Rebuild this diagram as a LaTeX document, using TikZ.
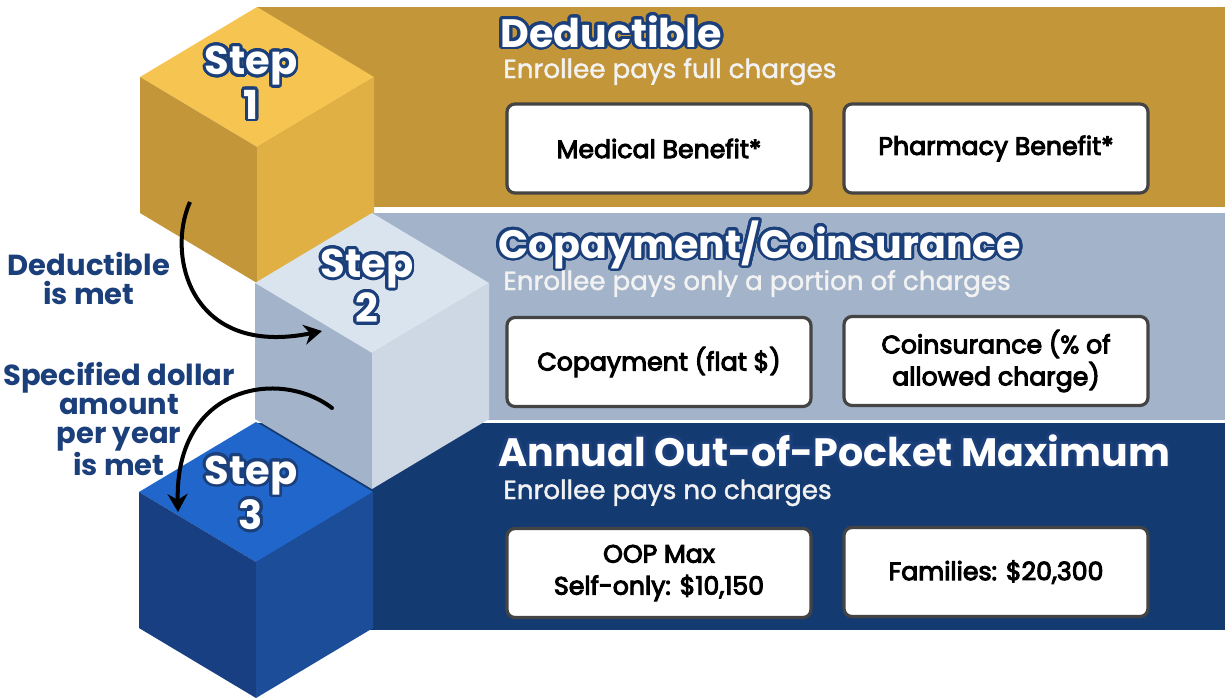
\documentclass[tikz,border=0pt]{standalone}
\usepackage{fontspec}
\setmainfont{Poppins}
\newfontfamily\pmed[FakeBold=4]{Poppins}
\newfontfamily\psub[FakeBold=1.5]{Poppins}
\usepackage[copies]{contour}
\usetikzlibrary{arrows.meta}
\definecolor{goldband}{HTML}{C4963A}
\definecolor{goldtop}{HTML}{F5C451}
\definecolor{goldright}{HTML}{E1B044}
\definecolor{grayband}{HTML}{A3B4CA}
\definecolor{graytop}{HTML}{D9E4EF}
\definecolor{grayright}{HTML}{CED8E4}
\definecolor{blueband}{HTML}{143A72}
\definecolor{bluetop}{HTML}{2167CB}
\definecolor{blueleft}{HTML}{173F82}
\definecolor{blueright}{HTML}{1C4D99}
\definecolor{navy}{HTML}{1B3F7A}
\definecolor{boxborder}{HTML}{444444}
\definecolor{subwhite}{HTML}{F2F2F2}
\contournumber{32}
\newcommand\isocube[4]{%
  \begin{scope}[shift={#1}]
    \fill[#2] (0,0)--(-117,70)--(0,140)--(117,70)--cycle;
    \fill[#3] (-117,70)--(0,140)--(0,276)--(-117,206)--cycle;
    \fill[#4] (0,140)--(117,70)--(117,206)--(0,276)--cycle;
  \end{scope}}
\newcommand\outl[1]{\contourlength{1.4pt}\contour{navy}{\textcolor{white}{#1}}}
\begin{document}
\begin{tikzpicture}[x=0.5pt,y=-0.5pt,
  infobox/.style={draw=boxborder,line width=1.6pt,fill=white,rounded corners=4pt,
    minimum width=152pt,minimum height=44.5pt,align=center,inner sep=2pt,
    font=\pmed\fontsize{12.6}{16}\selectfont},
  title/.style={anchor=base west,inner sep=0pt,font=\bfseries\fontsize{19.8}{22}\selectfont},
  subtitle/.style={anchor=base west,inner sep=0pt,text=subwhite,font=\psub\fontsize{13.1}{14}\selectfont},
  steplabel/.style={align=center,inner sep=0pt,font=\bfseries\fontsize{20}{18.5}\selectfont},
  sidelabel/.style={align=center,inner sep=0pt,text=navy,font=\bfseries\fontsize{14.5}{14.5}\selectfont},
  flow/.style={line width=2pt,-{Stealth[length=9pt,width=10pt]}}]
\useasboundingbox (0,0) rectangle (1225,698);
% bands
\fill[goldband] (257,7) rectangle (1225,207);
\fill[grayband] (372,213) rectangle (1225,420);
\fill[blueband] (256,423) rectangle (1225,630);
% cubes
\isocube{(257,7)}{goldtop}{goldband}{goldright}
\isocube{(372,213)}{graytop}{grayband}{grayright}
\isocube{(256,422)}{bluetop}{blueleft}{blueright}
% step labels
\node[steplabel] (s1) at (251,84) {\outl{Step}\\\outl{1}};
\node[steplabel] (s2) at (367,287) {\outl{Step}\\\outl{2}};
\node[steplabel] (s3) at (251,494) {\outl{Step}\\\outl{3}};
% titles
\node[title] (t1) at (500,47) {\outl{Deductible}};
\node[subtitle] (u1) at (503,78) {Enrollee pays full charges};
\node[title] (t2) at (498,258) {\outl{Copayment/Coinsurance}};
\node[subtitle] (u2) at (503,290) {Enrollee pays only a portion of charges};
\node[title] (t3) at (498,466) {\outl{Annual Out-of-Pocket Maximum}};
\node[subtitle] (u3) at (503,499) {Enrollee pays no charges};
% boxes
\node[infobox] (b1) at (659,148.5) {Medical Benefit*};
\node[infobox] (b2) at (996,148.5) {Pharmacy Benefit*};
\node[infobox] (b3) at (659,362) {Copayment (flat \$)};
\node[infobox] (b4) at (996,361) {Coinsurance (\% of\\allowed charge)};
\node[infobox] (b5) at (659,573) {OOP Max\\Self-only: \$10,150};
\node[infobox] (b6) at (996,572) {Families: \$20,300};
% side labels
\node[sidelabel] (l1) at (89,278) {Deductible\\is met};
\node[sidelabel] (l2) at (119,419) {Specified dollar\\amount\\per year\\is met};
% arrows
\coordinate (a1s) at (190,202);
\coordinate (a1e) at (322,331);
\coordinate (a2s) at (332,408);
\coordinate (a2e) at (178,512);
\draw[flow] (a1s) .. controls (166,255) and (190,358) .. (a1e);
\draw[flow,line cap=round] (a2s) .. controls (280,368) and (175,385) .. (a2e);
\end{tikzpicture}
\end{document}
